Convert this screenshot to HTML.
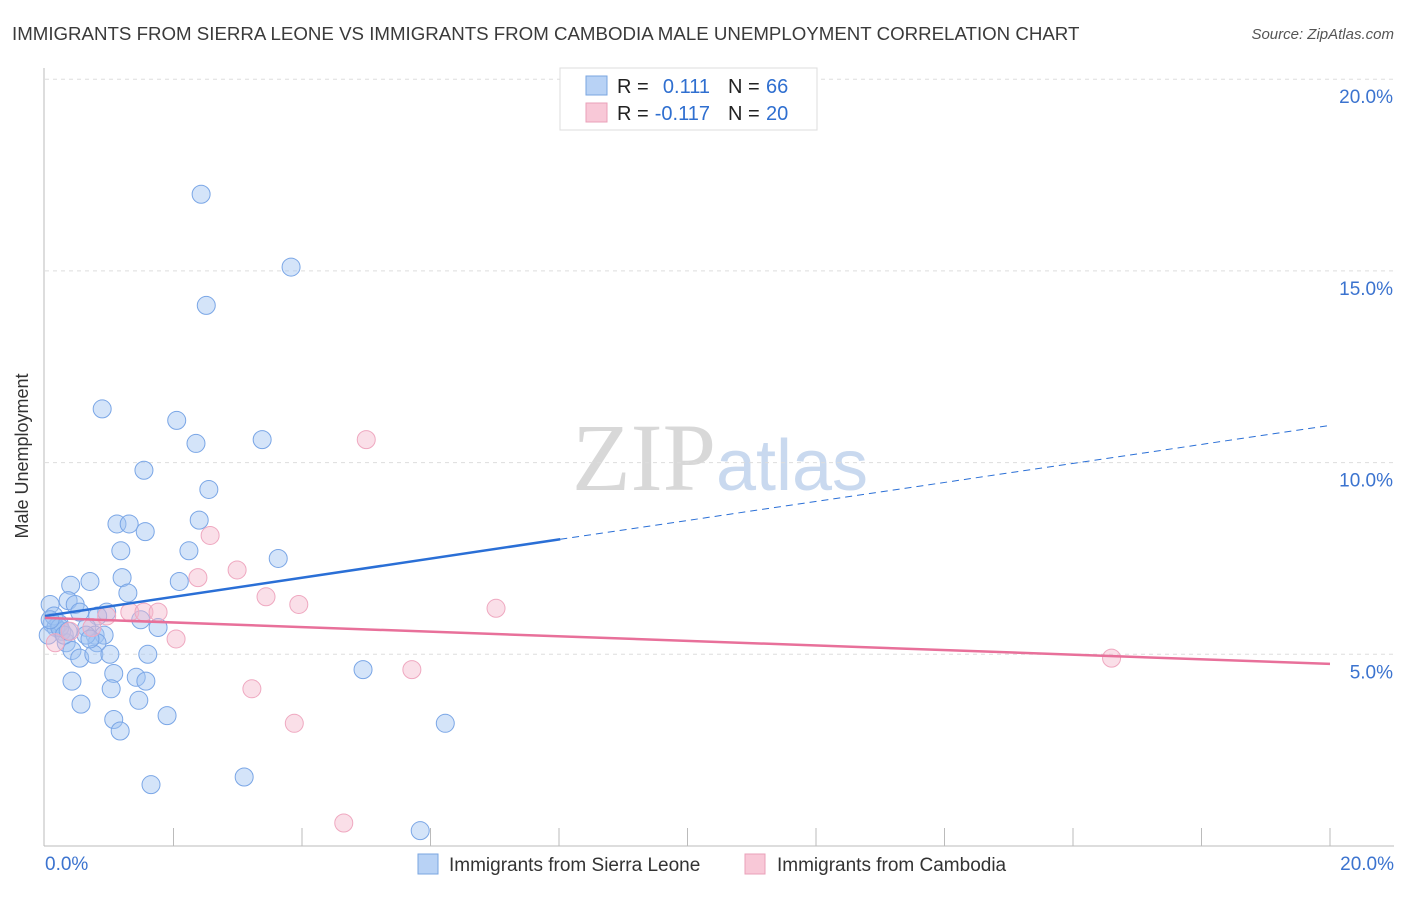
<!DOCTYPE html>
<html><head><meta charset="utf-8"><style>
body{margin:0;background:#fff;font-family:"Liberation Sans",sans-serif}
svg text{font-family:"Liberation Sans",sans-serif}
</style></head><body>
<svg id="chart" width="1406" height="892">
<text x="12" y="40" font-size="18.7" fill="#3a3a3a">IMMIGRANTS FROM SIERRA LEONE VS IMMIGRANTS FROM CAMBODIA MALE UNEMPLOYMENT CORRELATION CHART</text>
<text x="1394" y="39" font-size="15" fill="#555" font-style="italic" text-anchor="end">Source: ZipAtlas.com</text>
<text x="28" y="456" font-size="18" fill="#333" text-anchor="middle" transform="rotate(-90 28 456)">Male Unemployment</text>
<text x="720" y="490" font-size="96" fill="#ddd" text-anchor="middle" font-family="Liberation Serif"><tspan fill="#d8d8d8" font-family="Liberation Serif">ZIP</tspan><tspan fill="#c9d9ef" font-size="72" font-family="Liberation Sans">atlas</tspan></text>
<g id="grid"></g><g id="axes"></g><g id="pts"></g><g id="trends"></g>
<g>
<rect x="560" y="68" width="257" height="62" fill="#fff" stroke="#ddd"/>
<rect x="586" y="76" width="21" height="19" fill="#b8d2f5" stroke="#7aa6e0"/>
<rect x="586" y="103" width="21" height="19" fill="#f8c8d7" stroke="#eaa0b8"/>
<text x="617" y="93" font-size="20" fill="#222">R =</text><text x="710" y="93" font-size="20" fill="#2f6fd0" text-anchor="end">0.111</text>
<text x="728" y="93" font-size="20" fill="#222">N =</text><text x="766" y="93" font-size="20" fill="#2f6fd0">66</text>
<text x="617" y="120" font-size="20" fill="#222">R =</text><text x="710" y="120" font-size="20" fill="#2f6fd0" text-anchor="end">-0.117</text>
<text x="728" y="120" font-size="20" fill="#222">N =</text><text x="766" y="120" font-size="20" fill="#2f6fd0">20</text>
</g>
<g>
<rect x="418" y="854" width="20" height="20" fill="#b8d2f5" stroke="#7aa6e0"/>
<text x="449" y="871" font-size="19" fill="#333">Immigrants from Sierra Leone</text>
<rect x="745" y="854" width="20" height="20" fill="#f8c8d7" stroke="#eaa0b8"/>
<text x="777" y="871" font-size="19" fill="#333">Immigrants from Cambodia</text>
</g>
</svg>
<script>
const yTicks=[5,10,15,20];
const blueX=[2.43,3.83,2.51,0.89,2.05,2.35,3.38,1.54,2.55,1.12,1.31,1.56,2.40,1.18,2.24,3.63,0.40,0.70,1.20,2.09,0.36,0.47,1.29,0.08,0.54,0.96,1.49,0.11,0.22,0.26,0.82,1.76,0.65,0.78,0.92,0.33,0.42,0.54,0.81,0.76,1.01,1.60,4.95,0.42,1.07,1.42,1.57,1.03,0.56,1.46,1.90,1.07,1.17,6.23,3.10,1.65,5.84,0.17,0.05,0.14,0.23,0.30,0.64,0.70,0.36,0.08];
const blueY=[17.0,15.1,14.1,11.4,11.1,10.5,10.6,9.8,9.3,8.4,8.4,8.2,8.5,7.7,7.7,7.5,6.8,6.9,7.0,6.9,6.4,6.3,6.6,6.3,6.1,6.1,5.9,5.8,5.8,5.6,6.0,5.7,5.7,5.5,5.5,5.3,5.1,4.9,5.3,5.0,5.0,5.0,4.6,4.3,4.5,4.4,4.3,4.1,3.7,3.8,3.4,3.3,3.0,3.2,1.8,1.6,0.4,5.7,5.5,6.0,5.7,5.5,5.5,5.4,5.6,5.9];
const pinkX=[5.0,2.57,2.99,2.38,3.44,3.95,7.02,1.32,1.54,1.76,0.96,2.04,5.71,3.22,3.88,4.65,16.6,0.16,0.39,0.73];
const pinkY=[10.6,8.1,7.2,7.0,6.5,6.3,6.2,6.1,6.1,6.1,6.0,5.4,4.6,4.1,3.2,0.6,4.9,5.3,5.6,5.7];
const blueTrendX=[0,8.02,20];
const blueTrend=[6.0,8.0,10.97];
const pinkTrendX=[0,20];
const pinkTrend=[5.95,4.75];
</script>
<script>
const ns="http://www.w3.org/2000/svg";
const sx=v=>45+v/20*1285;
const sy=v=>846-v/5*191.7;
function mk(t,a,p){const e=document.createElementNS(ns,t);for(const k in a)e.setAttribute(k,a[k]);p.appendChild(e);return e;}
const grid=document.getElementById('grid'),axes=document.getElementById('axes'),pts=document.getElementById('pts'),tr=document.getElementById('trends');
yTicks.forEach(t=>{
 const l=mk('line',{x1:45,x2:1394,y1:sy(t),y2:sy(t),stroke:'#ddd','stroke-dasharray':'4,4'},grid);
 
 
 const tx=mk('text',{x:1393,y:sy(t)+24,'font-size':19,fill:'#3b73cf','text-anchor':'end'},grid);
 tx.textContent=t.toFixed(1)+'%';
 
 
});
mk('line',{x1:44,x2:44,y1:68,y2:846,stroke:'#bbb'},axes);
mk('line',{x1:44,x2:1394,y1:846,y2:846,stroke:'#bbb'},axes);
for(let i=1;i<=10;i++){mk('line',{x1:45+i*128.5,x2:45+i*128.5,y1:828,y2:846,stroke:'#bbb'},axes);}
const xl=mk('text',{x:45,y:870,'font-size':19,fill:'#3b73cf'},axes);xl.textContent='0.0%';

const xr=mk('text',{x:1394,y:870,'font-size':19,fill:'#3b73cf','text-anchor':'end'},axes);xr.textContent='20.0%';

blueX.forEach((v,i)=>{
 const c=mk('circle',{cx:sx(v),cy:sy(blueY[i]),r:9,fill:'rgba(160,196,242,0.45)',stroke:'#7aa6e6','stroke-width':1},pts);
 
 
});
pinkX.forEach((v,i)=>{
 const c=mk('circle',{cx:sx(v),cy:sy(pinkY[i]),r:9,fill:'rgba(245,185,205,0.45)',stroke:'#efa8c0','stroke-width':1},pts);
 
 
});
const b1=mk('line',{x1:sx(blueTrendX[0]),y1:sy(blueTrend[0]),x2:sx(blueTrendX[1]),y2:sy(blueTrend[1]),stroke:'#2a6fd6','stroke-width':2.5},tr);

const b2=mk('line',{x1:sx(blueTrendX[1]),y1:sy(blueTrend[1]),x2:sx(blueTrendX[2]),y2:sy(blueTrend[2]),stroke:'#2a6fd6','stroke-width':1,'stroke-dasharray':'7,5'},tr);

const p1=mk('line',{x1:sx(pinkTrendX[0]),y1:sy(pinkTrend[0]),x2:sx(pinkTrendX[1]),y2:sy(pinkTrend[1]),stroke:'#e8709a','stroke-width':2.5},tr);

</script>
</body></html>
